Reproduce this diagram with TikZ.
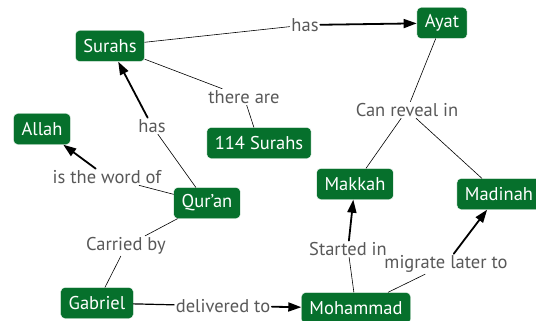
\documentclass[tikz,border=0pt]{standalone}
\usepackage{fontspec}
\setmainfont{PT Sans}
\usetikzlibrary{arrows.meta}
\definecolor{cmgreen}{RGB}{6,112,44}
\definecolor{cmgray}{RGB}{88,88,88}
\begin{document}
\begin{tikzpicture}[line cap=round,line join=round,>={Triangle[length=13pt,width=9pt]},x=1pt,y=-1pt,
  concept/.style={rectangle,rounded corners=4pt,fill=cmgreen,draw=white,text=white,
    minimum height=31pt,inner xsep=8pt,font=\fontsize{18.5}{20}\selectfont},
  phrase/.style={text=cmgray,inner sep=1.5pt,font=\fontsize{18.5}{20}\selectfont},
  thinline/.style={line width=0.6pt},
  thickline/.style={->,line width=1.8pt}]
\useasboundingbox (0,0) rectangle (536,321);
% concepts
\node[concept] (surahs) at (110,46) {Surahs};
\node[concept] (ayat) at (442,23) {Ayat};
\node[concept] (allah) at (42,129) {Allah};
\node[concept] (hundred) at (259,143) {114 Surahs};
\node[concept] (quran) at (207,203) {Qur’an};
\node[concept] (gabriel) at (97,303) {Gabriel};
\node[concept] (mohammad) at (356,308) {Mohammad};
\node[concept] (makkah) at (355,184) {Makkah};
\node[concept] (madinah) at (499,194) {Madinah};
% linking phrases
\node[phrase] (hasayat) at (305,25) {has};
\node[phrase] (thereare) at (244,97) {there are};
\node[phrase] (hassurahs) at (152,126) {has};
\node[phrase] (wordof) at (107,177) {is the word of};
\node[phrase] (carried) at (126,246) {Carried by};
\node[phrase] (delivered) at (223,306) {delivered to};
\node[phrase] (reveal) at (407,110) {Can reveal in};
\node[phrase] (started) at (348,249) {Started in};
\node[phrase] (migrate) at (446,264) {migrate later to};
% links
\draw[thinline] (surahs) -- (hasayat);
\draw[thickline] (hasayat) -- (ayat);
\draw[thinline] (surahs) -- (thereare) -- (hundred);
\draw[thinline] (quran) -- (hassurahs);
\draw[thickline] (hassurahs) -- (surahs);
\draw[thinline] (quran) -- (wordof);
\draw[thickline] (wordof) -- (allah);
\draw[thinline] (quran) -- (carried) -- (gabriel);
\draw[line width=1.2pt] (gabriel) -- (delivered);
\draw[thickline] (delivered) -- (mohammad);
\draw[thinline] (mohammad) -- (started);
\draw[thickline] (started) -- (makkah);
\draw[thinline] (mohammad) -- (migrate);
\draw[thickline] (migrate) -- (madinah);
\draw[thinline] (ayat) -- (reveal);
\draw[thinline] (reveal) -- (makkah);
\draw[thinline] (reveal) -- (madinah);
\end{tikzpicture}
\end{document}
